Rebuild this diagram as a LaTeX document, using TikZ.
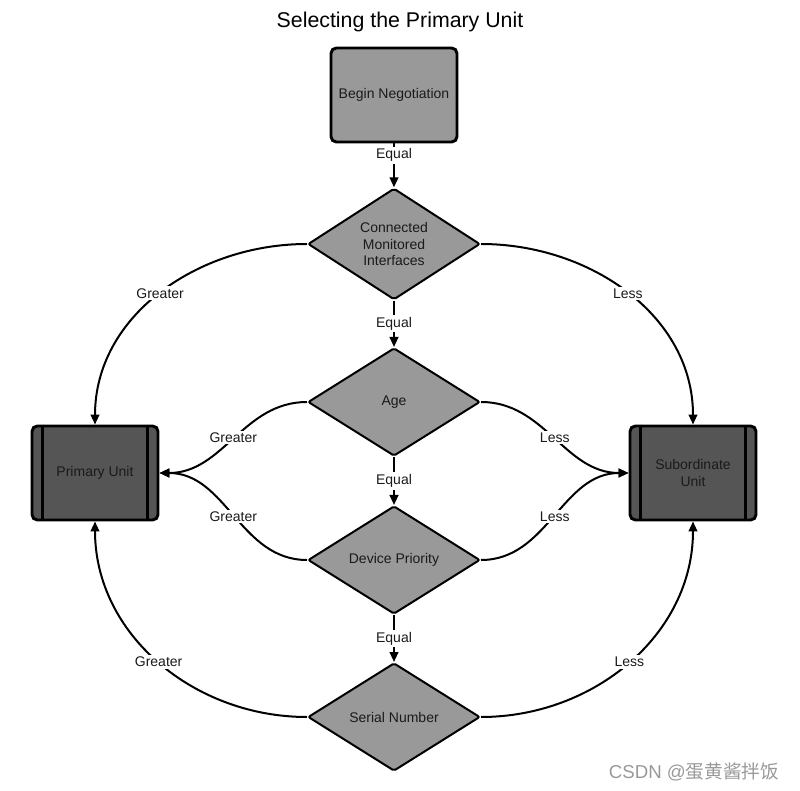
\documentclass[tikz,border=0pt]{standalone}
\usepackage{fontspec}
\setmainfont{Liberation Sans}
\newfontfamily\cjkfont{Noto Sans CJK SC}
\usetikzlibrary{shapes.geometric,arrows.meta}
\definecolor{lightfill}{HTML}{999999}
\definecolor{darkfill}{HTML}{555555}
\definecolor{txt}{HTML}{1A1A1A}
\tikzset{
  startbox/.style={draw=black, line width=2.2pt, fill=lightfill, rounded corners=4pt,
    minimum width=94.5pt, minimum height=70.5pt, inner sep=0pt, text=txt,
    font=\fontsize{10.5}{12.5}\selectfont},
  unitbox/.style={draw=black, line width=2.2pt, fill=darkfill, rounded corners=4pt,
    minimum width=94.5pt, minimum height=70.5pt, inner sep=0pt, text=txt, align=center,
    font=\fontsize{10.5}{12.5}\selectfont},
  decision/.style={diamond, draw=black, line width=1.5pt, fill=lightfill, rounded corners=1.5pt,
    minimum width=129pt, minimum height=81pt, inner sep=0pt, text=txt, align=center,
    font=\fontsize{10.5}{12.5}\selectfont},
  conn/.style={line width=1.5pt, -{Triangle[length=7.5pt,width=6.5pt]}},
  lbl/.style={fill=white, inner sep=1.5pt, text=txt, font=\fontsize{10.5}{12.5}\selectfont},
}
\begin{document}
\begin{tikzpicture}[x=0.75pt,y=-0.75pt]
\useasboundingbox (0,0) rectangle (800,791);
\node[text=black, font=\fontsize{16}{19}\selectfont] (title) at (400,22) {Selecting the Primary Unit};
\node[startbox] (begin) at (394,95) {Begin Negotiation};
\node[decision] (cmi) at (394,244) {Connected\\Monitored\\Interfaces};
\node[decision] (age) at (394,402) {Age};
\node[decision] (dev) at (394,560) {Device Priority};
\node[decision] (ser) at (394,717) {Serial Number};
\node[unitbox] (prim) at (95,473) {Primary Unit};
\node[unitbox] (sub) at (693,473) {Subordinate\\Unit};
\foreach \n in {prim,sub}{
  \draw[line width=2.2pt] ([xshift=9pt]\n.north west) -- ([xshift=9pt]\n.south west);
  \draw[line width=2.2pt] ([xshift=-9pt]\n.north east) -- ([xshift=-9pt]\n.south east);
}
% vertical Equal chain
\draw[conn] (begin.south) -- node[lbl,pos=0.27]{Equal} (cmi.north);
\draw[conn] (cmi.south) -- node[lbl,pos=0.5]{Equal} (age.north);
\draw[conn] (age.south) -- node[lbl,pos=0.5]{Equal} (dev.north);
\draw[conn] (dev.south) -- node[lbl,pos=0.5]{Equal} (ser.north);
% Greater
\draw[conn] (cmi.west) to[out=180,in=90] node[lbl,pos=0.5]{Greater} (prim.north);
\draw[conn] (age.west) to[out=180,in=0] node[lbl,pos=0.5]{Greater} (prim.east);
\draw[conn] (dev.west) to[out=180,in=0] node[lbl,pos=0.5]{Greater} (prim.east);
\draw[conn] (ser.west) to[out=180,in=-90] node[lbl,pos=0.5]{Greater} (prim.south);
% Less
\draw[conn] (cmi.east) to[out=0,in=90] node[lbl,pos=0.5]{Less} (sub.north);
\draw[conn] (age.east) to[out=0,in=180] node[lbl,pos=0.5]{Less} (sub.west);
\draw[conn] (dev.east) to[out=0,in=180] node[lbl,pos=0.5]{Less} (sub.west);
\draw[conn] (ser.east) to[out=0,in=-90] node[lbl,pos=0.5]{Less} (sub.south);
% watermark
\node[text=black!40, anchor=east, font=\fontsize{14}{16}\selectfont] (wm) at (784,772) {CSDN @{\cjkfont 蛋黄酱拌饭}};
\end{tikzpicture}
\end{document}
